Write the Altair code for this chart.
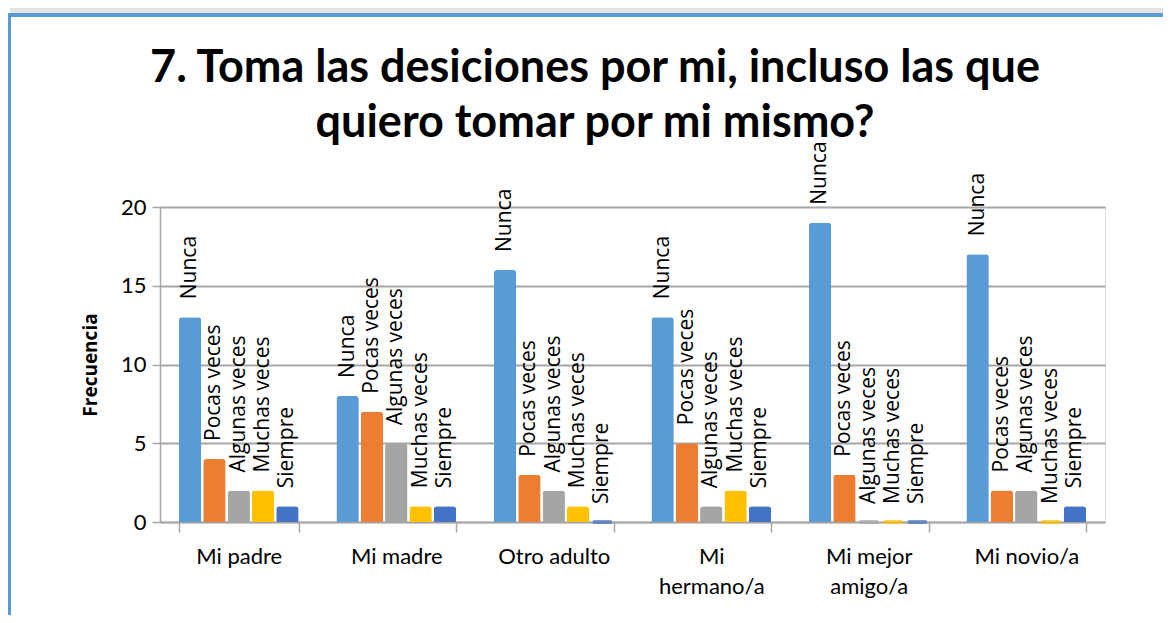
import altair as alt
import pandas as pd

categories = ["Mi padre", "Mi madre", "Otro adulto", "Mi hermano/a", "Mi mejor amigo/a", "Mi novio/a"]
series = ["Nunca", "Pocas veces", "Algunas veces", "Muchas veces", "Siempre"]
nunca = [13, 8, 16, 13, 19, 17]
pocas = [4, 7, 3, 5, 3, 2]
algunas = [2, 5, 2, 1, 0, 2]
muchas = [2, 1, 1, 2, 0, 0]
siempre = [1, 1, 0, 1, 0, 1]
colors = ["#5B9BD5", "#ED7D31", "#A5A5A5", "#FFC000", "#4472C4"]
y_ticks = [0, 5, 10, 15, 20]
title_line1 = "7. Toma las desiciones por mi, incluso las que"
title_line2 = "quiero tomar por mi mismo?"

rows = []
for s, vals in zip(series, [nunca, pocas, algunas, muchas, siempre]):
    for c, v in zip(categories, vals):
        rows.append({"cat": c, "serie": s, "val": v})
df = pd.DataFrame(rows)

x_enc = alt.X("cat:N", sort=categories, title=None,
              scale=alt.Scale(paddingInner=0.24, paddingOuter=0.12),
              axis=alt.Axis(labelAngle=0, labelFont="Lato", labelFontSize=22, labelColor="#000000",
                            labelPadding=14, tickBand="extent", tickSize=10, tickColor="#A6A6A6",
                            tickWidth=1.5, domainColor="#A6A6A6", domainWidth=1.5,
                            labelLineHeight=30, labelBaseline="top",
                            labelExpr="datum.value == 'Mi hermano/a' ? ['Mi', 'hermano/a'] : datum.value == 'Mi mejor amigo/a' ? ['Mi mejor', 'amigo/a'] : datum.value"))
y_enc = alt.Y("val:Q", title="Frecuencia",
              scale=alt.Scale(domain=[0, 20], nice=False),
              axis=alt.Axis(values=y_ticks, labelFont="Lato", labelFontSize=22, labelColor="#000000",
                            labelPadding=6, tickSize=8, tickColor="#A6A6A6", tickWidth=1.5,
                            domainColor="#A6A6A6", domainWidth=1.5,
                            grid=True, gridColor="#A6A6A6", gridWidth=2,
                            titleFont="Open Sans", titleFontSize=19, titleFontWeight="bold",
                            titleColor="#000000", titlePadding=20))
xo = alt.XOffset("serie:N", sort=series, scale=alt.Scale(paddingInner=0.08))
color = alt.Color("serie:N", sort=series, scale=alt.Scale(domain=series, range=colors), legend=None)

base = alt.Chart(df)
bars = base.mark_bar(cornerRadiusTopLeft=3, cornerRadiusTopRight=3).encode(
    x=x_enc, xOffset=xo, y=y_enc, color=color)
zero_discs = base.transform_filter("datum.val == 0").mark_tick(
    orient="horizontal", size=20, thickness=4, cornerRadius=2).encode(
    x=alt.X("cat:N", sort=categories), xOffset=xo, y="val:Q", color=color)
labels = base.mark_text(angle=270, align="left", baseline="middle", dx=18,
                        font="Open Sans", fontSize=21, color="#000000").encode(
    x=alt.X("cat:N", sort=categories), xOffset=xo, y="val:Q", text="serie:N")

one = pd.DataFrame({"k": [0]})
shadow_top = alt.Chart(one).mark_rule(color="#E3E3E3", strokeWidth=6).encode(
    x=alt.value(-150), x2=alt.value(1020), y=alt.value(-197))
frame_top = alt.Chart(one).mark_rule(color="#5B9BD5", strokeWidth=4).encode(
    x=alt.value(-153), x2=alt.value(1020), y=alt.value(-192))
frame_left = alt.Chart(one).mark_rule(color="#5B9BD5", strokeWidth=4).encode(
    x=alt.value(-151), y=alt.value(-194), y2=alt.value(420))
title1 = alt.Chart(one).mark_text(font="Lato", fontSize=45, fontWeight="bold", color="#000000",
                                  align="center", baseline="alphabetic").encode(
    x=alt.value(435), y=alt.value(-125), text=alt.value(title_line1))
title2 = alt.Chart(one).mark_text(font="Lato", fontSize=45, fontWeight="bold", color="#000000",
                                  align="center", baseline="alphabetic").encode(
    x=alt.value(435), y=alt.value(-70), text=alt.value(title_line2))

chart = alt.layer(bars, zero_discs, labels, shadow_top, frame_top, frame_left, title1, title2).properties(
    width=945, height=315,
    autosize=alt.AutoSizeParams(type="none"),
    padding={"left": 152, "top": 199, "right": 58, "bottom": 93},
).configure_view(stroke=None).configure(background="#FFFFFF")

chart.save("out.html", embed_options={"renderer": "svg", "actions": False})
